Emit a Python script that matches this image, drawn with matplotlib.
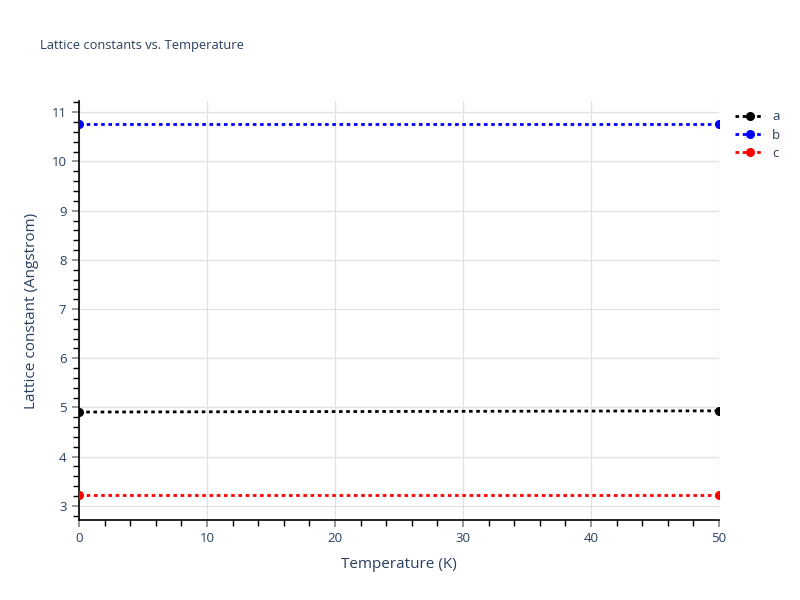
import numpy as np
import matplotlib.pyplot as plt
from matplotlib.ticker import MultipleLocator
from matplotlib.lines import Line2D

plt.rcParams['font.family'] = ['Open Sans', 'DejaVu Sans']

# values
temps = [0, 50]
a_vals = [4.905, 4.93]
b_vals = [10.755, 10.755]
c_vals = [3.218, 3.218]
names = ['a', 'b', 'c']
colors = ['black', 'blue', 'red']

txt = '#2a3f5f'
W, H = 800, 600
fig = plt.figure(figsize=(8, 6), dpi=100)
ax = fig.add_axes([79 / W, 1 - 520 / H, 640 / W, 419 / H])

for vals, name, col in zip([a_vals, b_vals, c_vals], names, colors):
    ax.plot(temps, vals, linestyle=(0, (1.3, 1.3)), linewidth=2, color=col,
            marker='o', markersize=5.5, label=name, zorder=3)

ax.set_xlim(0, 50)
ax.set_ylim(2.71, 11.23)
ax.xaxis.set_major_locator(MultipleLocator(10))
ax.xaxis.set_minor_locator(MultipleLocator(2))
ax.yaxis.set_major_locator(MultipleLocator(1))
ax.yaxis.set_minor_locator(MultipleLocator(0.2))
ax.grid(True, which='major', color='#e2e2e2', linewidth=1)
ax.set_axisbelow(True)

for s in ['top', 'right']:
    ax.spines[s].set_visible(False)
for s in ['left', 'bottom']:
    ax.spines[s].set_color('black')
    ax.spines[s].set_linewidth(1.2)

ax.tick_params(which='major', length=5, width=1.2, color='#888888',
               labelsize=9.5, labelcolor=txt, pad=4)
ax.tick_params(which='minor', length=4, width=1, color='black')

ax.set_xlabel('Temperature (K)', fontsize=11, color=txt, labelpad=8)
ax.set_ylabel('Lattice constant (Angstrom)', fontsize=11, color=txt, labelpad=9)
fig.text(40 / W, 1 - 45 / H, 'Lattice constants vs. Temperature',
         fontsize=9.3, color=txt, va='center')

handles = [Line2D([0], [0], color=c, linestyle=(0, (1.3, 1.3)), linewidth=2,
                  marker='o', markersize=5.5) for c in colors]
leg = fig.legend(handles, names, loc='upper left', bbox_to_anchor=(730 / W, 1 - 105 / H),
                 frameon=False, fontsize=9.5, handlelength=2.2, labelspacing=0.4,
                 handletextpad=0.6, borderaxespad=0)
for t in leg.get_texts():
    t.set_color(txt)

fig.savefig('out.png', dpi=100)
